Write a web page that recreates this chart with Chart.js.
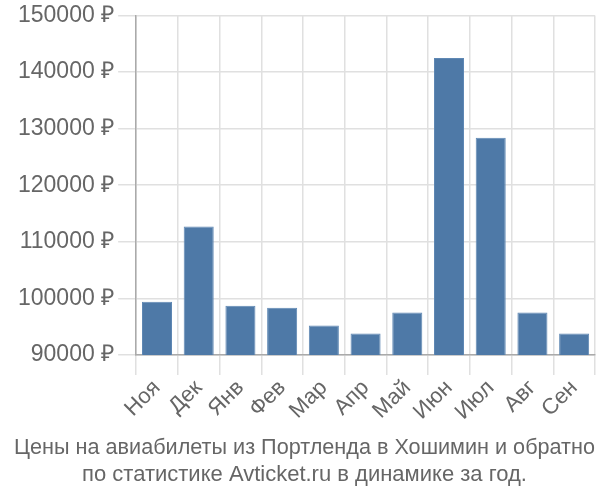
<!DOCTYPE html>
<html>
<head>
<meta charset="utf-8">
<script src="https://cdn.jsdelivr.net/npm/chart.js@4"></script>
<style>
  html, body { margin: 0; padding: 0; background: #fff; }
  #wrap { width: 600px; height: 500px; }
</style>
</head>
<body>
<div id="wrap"><canvas id="priceChart"></canvas></div>
<script>
const months = ['Ноя', 'Дек', 'Янв', 'Фев', 'Мар', 'Апр', 'Май', 'Июн', 'Июл', 'Авг', 'Сен'];
const prices = [99400, 112700, 98700, 98350, 95200, 93800, 97500, 142500, 128400, 97500, 93800];
const titleLines = [
    'Цены на авиабилеты из Портленда в Хошимин и обратно',
    'по статистике Avticket.ru в динамике за год.'
];

Chart.defaults.font.family = '"Liberation Sans", Arial, sans-serif';
Chart.defaults.color = '#666';

const ctx = document.getElementById('priceChart').getContext('2d');
const priceChart = new Chart(ctx, {
    type: 'bar',
    data: {
        labels: months,
        datasets: [{
            data: prices,
            backgroundColor: '#4e79a7',
            borderColor: '#5f88b4',
            borderWidth: 1
        }]
    },
    options: {
        responsive: true,
        maintainAspectRatio: false,
        animation: false,
        layout: { padding: { left: 14, right: 5, top: 0, bottom: 12 } },
        plugins: {
            legend: { display: false },
            tooltip: { enabled: false },
            title: {
                display: true,
                position: 'bottom',
                text: titleLines,
                color: '#666',
                font: { size: 22, weight: 'normal', lineHeight: 1.2 },
                padding: { top: 10, bottom: 0 }
            }
        },
        scales: {
            x: {
                grid: { color: '#e0e0e0', lineWidth: 1.5, offset: true, tickLength: 20 },
                border: { color: '#aaa', width: 1.5 },
                ticks: {
                    font: { size: 22 },
                    minRotation: 45,
                    maxRotation: 45,
                    padding: 0,
                    color: '#666'
                }
            },
            y: {
                min: 90000,
                max: 150000,
                grid: { color: '#e0e0e0', lineWidth: 1.5, tickLength: 18 },
                border: { color: '#aaa', width: 1.5 },
                ticks: {
                    stepSize: 10000,
                    font: { size: 23, lineHeight: 1 },
                    color: '#666',
                    padding: 4,
                    callback: v => v + ' ₽'
                }
            }
        }
    }
});
</script>
</body>
</html>
